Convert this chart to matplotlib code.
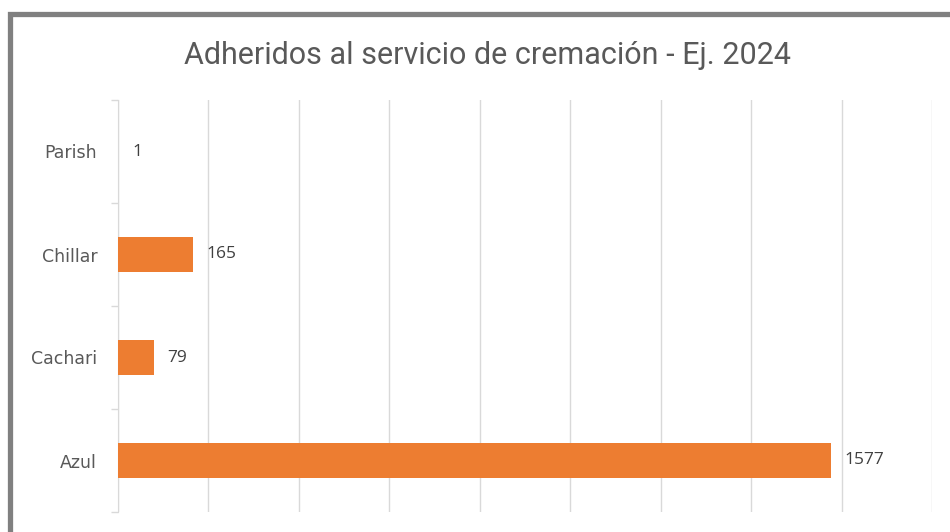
import matplotlib
matplotlib.use("Agg")
import matplotlib.pyplot as plt
from matplotlib.patches import Rectangle

# data, bottom to top
categories = ['Azul', 'Cachari', 'Chillar', 'Parish']
adheridos = [1577, 79, 165, 1]
chart_title = 'Adheridos al servicio de cremación - Ej. 2024'

bar_color = '#ED7D31'
grid_color = '#D9D9D9'

fig = plt.figure(figsize=(9.5, 5.32), dpi=100)
fig.patch.set_facecolor('white')

# grey frame, only top and left are visible in the picture
frame = Rectangle((9.5 / 950, -0.5), 2.0, 1.5 - 13.5 / 532, transform=fig.transFigure,
                  fill=False, edgecolor='#808080', linewidth=3.8, zorder=0)
fig.patches.append(frame)

ax = fig.add_axes([118 / 950, 1 - 512 / 532, 814 / 950, 412 / 532])

ypos = list(range(len(categories)))
ax.barh(ypos, adheridos, height=0.34, color=bar_color, zorder=3)

for y, v in zip(ypos, adheridos):
    ax.text(v + 30, y, str(v), va='center', ha='left', fontsize=12.5,
            color='#404040', family='Open Sans')

ax.set_xlim(0, 1800)
ax.set_ylim(-0.5, len(categories) - 0.5)
ax.set_xticks(range(0, 1801, 200))
ax.tick_params(axis='x', length=0, labelbottom=False)
ax.xaxis.grid(True, color=grid_color, linewidth=1, zorder=0)

ax.set_yticks(ypos)
ax.set_yticklabels(categories, fontsize=12.5, color='#595959')
ax.tick_params(axis='y', which='major', length=0, pad=15)
ax.set_yticks([i - 0.5 for i in range(len(categories) + 1)], minor=True)
ax.tick_params(axis='y', which='minor', length=5, color=grid_color, width=1)

for side in ['top', 'right', 'bottom']:
    ax.spines[side].set_visible(False)
ax.spines['left'].set_color(grid_color)

fig.text(487 / 950, 1 - 55 / 532, chart_title, ha='center', va='center',
         fontsize=22, color='#595959', family='Roboto')

fig.savefig('out.png', dpi=100, facecolor='white')
